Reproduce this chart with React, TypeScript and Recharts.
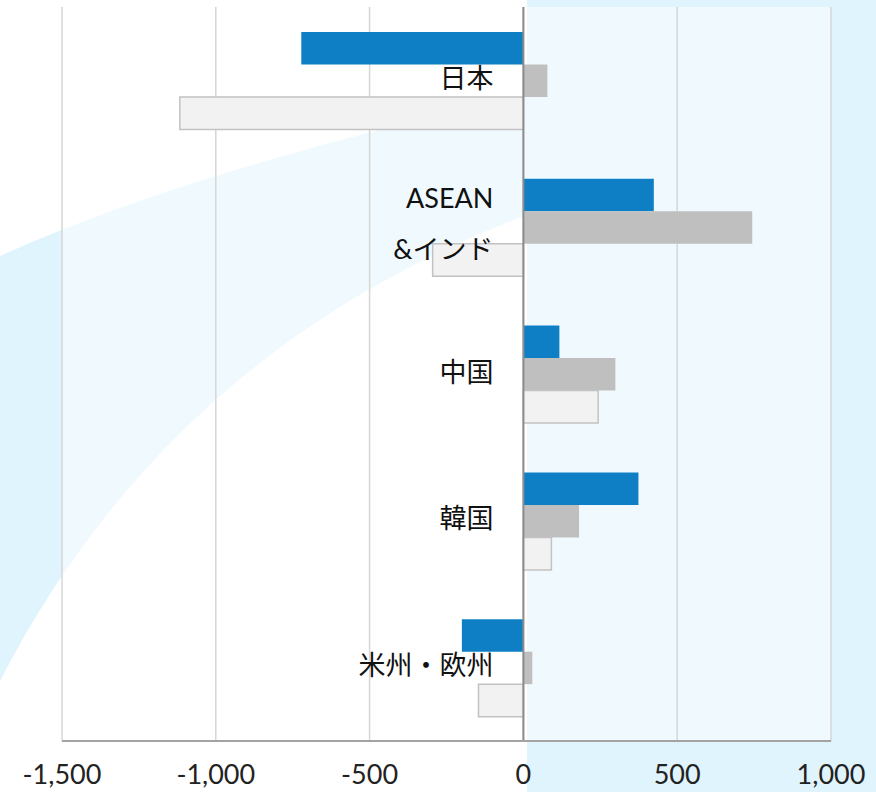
import React from "react";
import {
  BarChart,
  Bar,
  XAxis,
  YAxis,
  CartesianGrid,
  ReferenceLine,
} from "recharts";

const categories = ["日本", "ASEAN\n&インド", "中国", "韓国", "米州・欧州"];
const valuesA = [-722, 424, 117, 374, -200];
const valuesB = [78, 744, 299, 181, 29];
const valuesC = [-1117, -295, 243, 91, -146];
const xTicks = [-1500, -1000, -500, 0, 500, 1000];

const WIDTH = 876;
const HEIGHT = 792;
const Y_AXIS_W = 10;
const MARGIN = { top: 7, right: 45, bottom: 0, left: 62 - Y_AXIS_W };
const X_DOMAIN: [number, number] = [-1500, 1000];
const PLOT_LEFT = MARGIN.left + Y_AXIS_W;
const PLOT_W = WIDTH - PLOT_LEFT - MARGIN.right;
// category names sit just left of the zero line
const ZERO_X =
  PLOT_LEFT + ((0 - X_DOMAIN[0]) / (X_DOMAIN[1] - X_DOMAIN[0])) * PLOT_W;

const LATIN = "Lato, 'Noto Sans CJK JP', sans-serif";

const data = categories.map((name, i) => ({
  name,
  a: valuesA[i],
  b: valuesB[i],
  c: valuesC[i],
}));

function renderCategoryTick(props: any) {
  const { y, payload } = props;
  const lines = String(payload.value).split("\n");
  const offsets = lines.length > 1 ? [-30, 21] : [-3];
  return (
    <g>
      {lines.map((line, i) => (
        <text
          key={i}
          x={ZERO_X - 30}
          y={y + offsets[i]}
          textAnchor="end"
          dominantBaseline="central"
          fontSize={27}
          fontFamily={LATIN}
          fill="#111"
        >
          {line}
        </text>
      ))}
    </g>
  );
}

function Backdrop() {
  return (
    <svg
      width={WIDTH}
      height={HEIGHT}
      style={{ position: "absolute", left: 0, top: 0 }}
    >
      <rect x={0} y={0} width={WIDTH} height={HEIGHT} fill="#ffffff" />
      <rect x={527} y={0} width={WIDTH - 527} height={HEIGHT} fill="#e0f4fd" />
      <path
        d="M0,256 Q196,168 527,95 L527,215 Q170,350 0,681 Z"
        fill="#e0f4fd"
      />
    </svg>
  );
}

export default function App() {
  return (
    <div
      style={{
        position: "absolute",
        left: 0,
        top: 0,
        width: WIDTH,
        height: HEIGHT,
        overflow: "hidden",
      }}
    >
      <Backdrop />
      <div style={{ position: "absolute", left: 0, top: 0 }}>
        <BarChart
          width={WIDTH}
          height={HEIGHT}
          data={data}
          layout="vertical"
          margin={MARGIN}
          barGap={0}
          barSize={32.5}
        >
          <CartesianGrid
            horizontal={false}
            stroke="#d6d6d6"
            strokeWidth={1.5}
            fill="#ffffff"
            fillOpacity={0.5}
          />
          <XAxis
            type="number"
            domain={X_DOMAIN}
            ticks={xTicks}
            interval={0}
            height={51}
            tickLine={false}
            axisLine={{ stroke: "#a3a3a3", strokeWidth: 2 }}
            tickMargin={18}
            tick={{ fontSize: 27, fill: "#222", fontFamily: LATIN }}
            tickFormatter={(v: number) => v.toLocaleString("en-US")}
          />
          <Bar dataKey="a" fill="#0e7fc5" isAnimationActive={false} />
          <Bar dataKey="b" fill="#bfbfbf" isAnimationActive={false} />
          <Bar
            dataKey="c"
            fill="#f2f2f2"
            stroke="#c2c2c2"
            strokeWidth={1.5}
            isAnimationActive={false}
          />
          <ReferenceLine x={0} stroke="#8c8c8c" strokeWidth={2} />
          <YAxis
            type="category"
            dataKey="name"
            width={Y_AXIS_W}
            interval={0}
            tickLine={false}
            axisLine={false}
            tick={renderCategoryTick}
          />
        </BarChart>
      </div>
    </div>
  );
}
